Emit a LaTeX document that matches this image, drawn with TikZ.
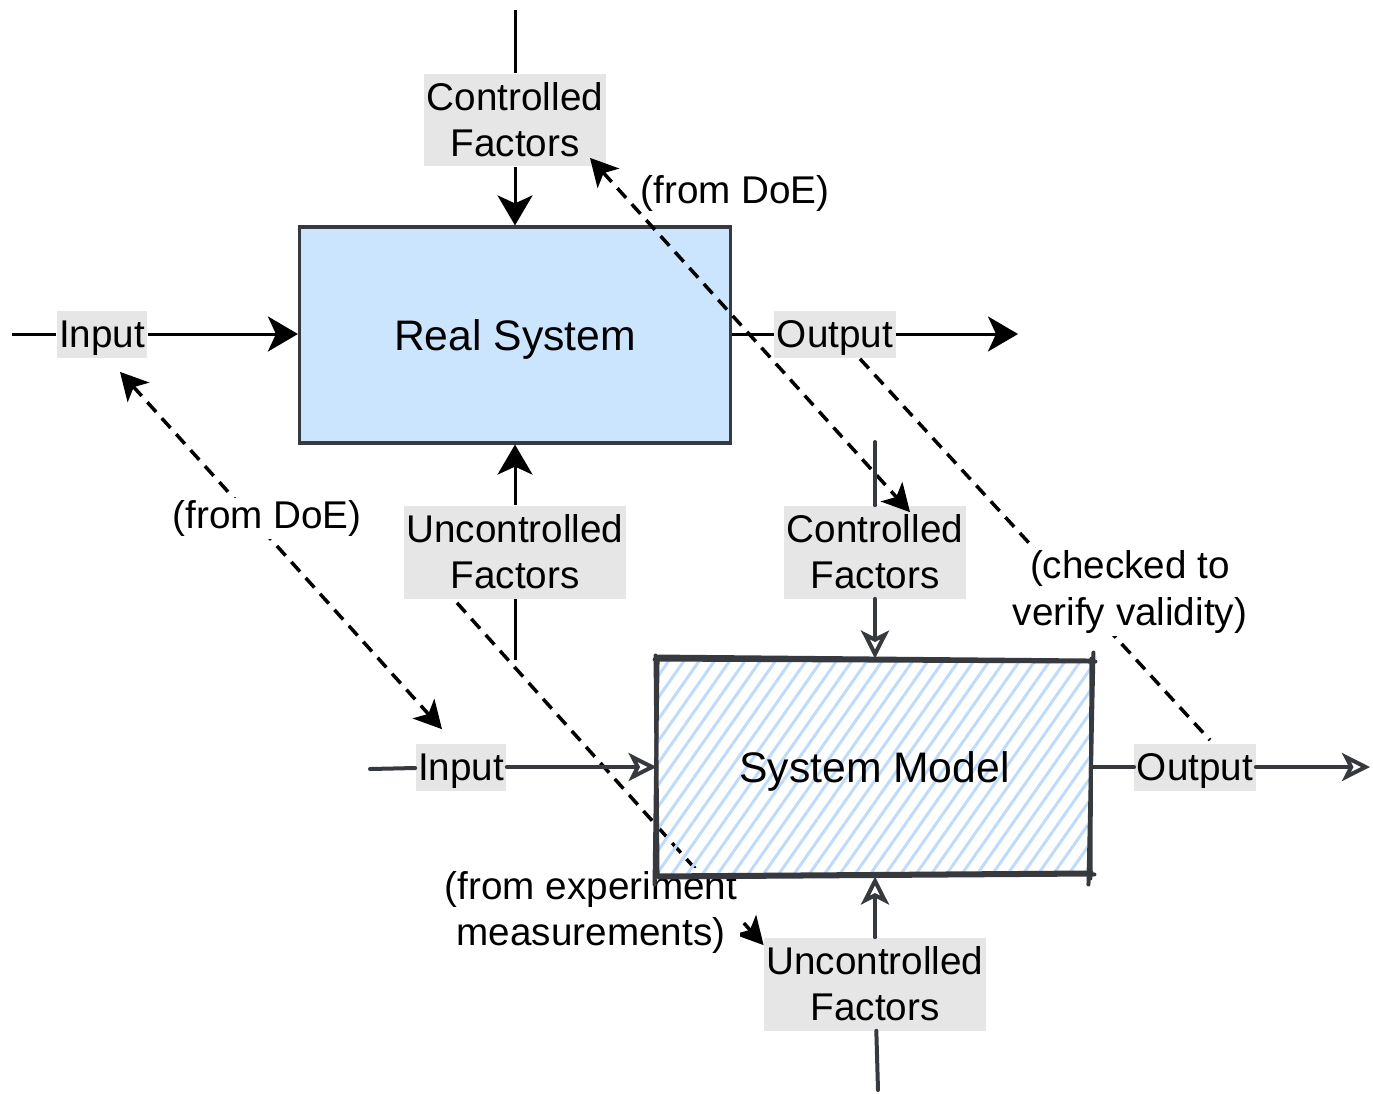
\documentclass[tikz,border=0pt]{standalone}
\usepackage{fontspec}
\setmainfont{Liberation Sans}
\usepackage{xcolor}
\usepackage{tikz}
\usetikzlibrary{positioning, calc, arrows.meta, patterns.meta}
\definecolor{sysblue}{RGB}{204, 229, 255}
\definecolor{hatchblue}{RGB}{190, 220, 250}
\definecolor{factorgray}{RGB}{230, 230, 230}
\definecolor{sketchgray}{RGB}{54, 57, 61}
\newcommand{\factorfont}{\fontsize{22}{26.2}\selectfont}
\newcommand{\boxfont}{\fontsize{24.3}{29}\selectfont}
\tikzset{
    sysbox/.style={
        draw=sketchgray, line width=0.065cm, fill=sysblue, font=\boxfont,
        minimum width=8.62cm, minimum height=4.32cm, inner sep=0pt, text depth=0pt
    },
    factorlabel/.style={
        fill=factorgray, font=\factorfont, align=center, inner xsep=0.05cm, inner ysep=0pt
    },
    notelabel/.style={
        font=\factorfont, align=center, inner sep=0.05cm
    },
    solidflow/.style={
        line width=0.06cm, black
    },
    sketchflow/.style={
        line width=0.08cm, sketchgray, line cap=round
    }
}

\begin{document}
\begin{tikzpicture}[
        x=0.02cm, y=-0.02cm,
        % --- STYLE ---
        twolines/.style={minimum height=1.86cm},
        oneline/.style={minimum height=0.94cm, text depth=0pt},
        flowtip/.style={-{Stealth[length=0.6cm, width=0.7cm, inset=0.16cm]}},
        opentip/.style={-{Stealth[open, length=0.56cm, width=0.56cm, inset=0.14cm]}},
        doelink/.style={line width=0.07cm, dash pattern=on 0.26cm off 0.17cm},
        doeboth/.style={doelink,
            {Stealth[length=0.55cm, width=0.58cm, inset=0.14cm]}-{Stealth[length=0.55cm, width=0.58cm, inset=0.14cm]}},
        doeend/.style={doelink, -{Stealth[length=0.55cm, width=0.58cm, inset=0.14cm]}},
        modelbox/.style={
            font=\boxfont, minimum width=8.66cm, minimum height=4.3cm, inner sep=0pt, text depth=0pt,
            pattern={Lines[angle=55, distance=0.25cm, line width=0.06cm]}, pattern color=hatchblue
        }
    ]
        \useasboundingbox (0,0) rectangle (1373,1093);

        % --- 1. REAL SYSTEM ---
        \node[sysbox] (realsys) at (515,335) {Real System};
        \node[factorlabel, twolines] (rsctrl) at (515,120) {Controlled\\Factors};
        \node[factorlabel, oneline] (rsin) at (102,334) {Input};
        \node[factorlabel, oneline] (rsout) at (835,334) {Output};
        \node[factorlabel, twolines] (rsunctrl) at (515,552) {Uncontrolled\\Factors};
        \coordinate (rsctrltop) at (515,10);
        \coordinate (rsinstart) at (12,334);
        \coordinate (rsoutend) at (1018,334);
        \coordinate (rsunctrlbottom) at (515,660);

        \draw[solidflow] (rsctrltop) -- (rsctrl);
        \draw[solidflow, flowtip] (rsctrl) -- (realsys);
        \draw[solidflow] (rsinstart) -- (rsin);
        \draw[solidflow, flowtip] (rsin) -- (rsin -| realsys.west);
        \draw[solidflow] (rsout -| realsys.east) -- (rsout);
        \draw[solidflow, flowtip] (rsout) -- (rsoutend);
        \draw[solidflow] (rsunctrlbottom) -- (rsunctrl);
        \draw[solidflow, flowtip] (rsunctrl) -- (rsunctrl |- realsys.south);

        % --- 2. SYSTEM MODEL LABELS ---
        \node[factorlabel, twolines] (smctrl) at (875,552) {Controlled\\Factors};
        \node[factorlabel, oneline] (smin) at (461,767) {Input};
        \node[factorlabel, oneline] (smout) at (1195,767) {Output};
        \node[factorlabel, twolines] (smunctrl) at (875,984) {Uncontrolled\\Factors};

        % --- 3. DASHED LINKS ---
        \draw[doeboth] ($(rsctrl.south east)+(-16,-9)$) -- ($(smctrl.north)+(35,7)$);
        \draw[doeboth] ($(rsin.south)+(18,14)$) -- ($(smin.north)+(-19,-14)$);
        \draw[doelink] ($(rsout.south)+(25,1)$) -- ($(smout.north)+(15,-3)$);
        \draw[doeend] ($(rsunctrl.south)+(-58,4)$) -- ($(smunctrl.north west)+(0,8)$);

        % --- 4. NOTES ---
        \node[notelabel] (doetop) at (735,193) {(from DoE)};
        \node[notelabel, fill=white] (doeleft) at (267,518) {(from DoE)};
        \node[notelabel, fill=white] (checknote) at (1130,592) {(checked to\\verify validity)};
        \node[notelabel, fill=white] (expnote) at (591,912) {(from experiment\\measurements)};

        % --- 5. SYSTEM MODEL ---
        \node[modelbox] (simmodel) at (874.5,767.5) {System Model};
        \draw[sketchflow] ($(simmodel.north west)+(-2,1)$) -- ($(simmodel.north east)+(3,3)$);
        \draw[sketchflow] ($(simmodel.north west)+(0,-2)$) -- ($(simmodel.north east)+(-3,2)$);
        \draw[sketchflow] ($(simmodel.north west)+(-1,-3)$) -- ($(simmodel.south west)+(1,0)$);
        \draw[sketchflow] ($(simmodel.north west)+(1,2)$) -- ($(simmodel.south west)+(-2,8)$);
        \draw[sketchflow] ($(simmodel.north east)+(1,-6)$) -- ($(simmodel.south east)+(-4,8)$);
        \draw[sketchflow] ($(simmodel.north east)+(-1,0)$) -- ($(simmodel.south east)+(-2,2)$);
        \draw[sketchflow] ($(simmodel.south west)+(0,-1)$) -- ($(simmodel.south east)+(-1,-4)$);
        \draw[sketchflow] ($(simmodel.south west)+(2,1)$) -- ($(simmodel.south east)+(2,-2)$);

        \coordinate (smctrltop) at (875,442);
        \coordinate (sminstart) at (370,769);
        \coordinate (smoutend) at (1370,767);
        \coordinate (smunctrlbottom) at (878,1090);

        \draw[sketchflow] (smctrltop) -- (smctrl);
        \draw[sketchflow, opentip] (smctrl) -- (smctrl |- simmodel.north);
        \draw[sketchflow] (sminstart) -- (smin);
        \draw[sketchflow, opentip] (smin) -- (smin -| simmodel.west);
        \draw[sketchflow] (smout -| simmodel.east) -- (smout);
        \draw[sketchflow, opentip] (smout) -- (smoutend);
        \draw[sketchflow] (smunctrlbottom) -- (smunctrl);
        \draw[sketchflow, opentip] (smunctrl) -- (smunctrl |- simmodel.south);

\end{tikzpicture}
\end{document}
